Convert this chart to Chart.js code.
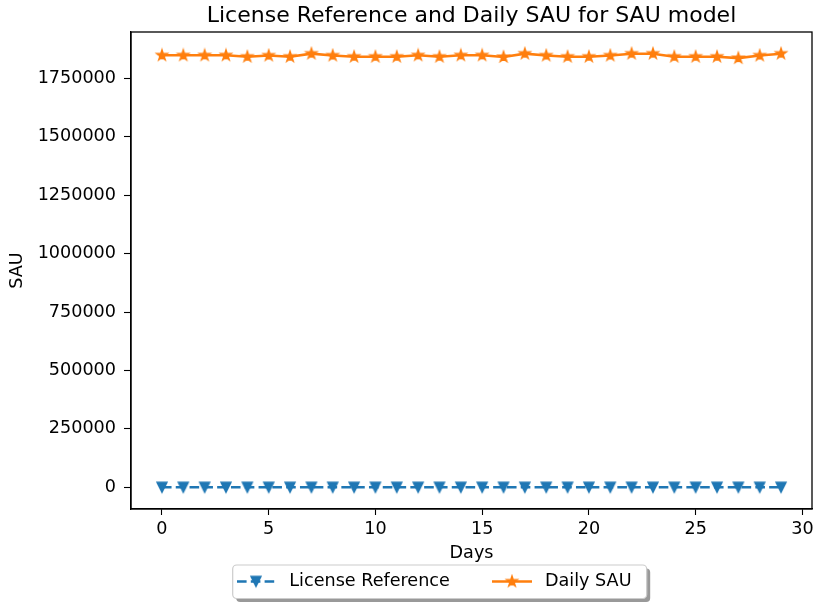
<!DOCTYPE html>
<html><head><meta charset="utf-8">
<script src="https://cdn.jsdelivr.net/npm/chart.js@4"></script>
<style>html,body{margin:0;padding:0;background:#fff;} canvas{display:block}</style>
</head><body>
<canvas id="c" width="813" height="602"></canvas>
<script>
const chartTitle = 'License Reference and Daily SAU for SAU model';
const seriesNames = ['License Reference', 'Daily SAU'];
const days = [0,1,2,3,4,5,6,7,8,9,10,11,12,13,14,15,16,17,18,19,20,21,22,23,24,25,26,27,28,29];
const licenseReference = [0,0,0,0,0,0,0,0,0,0,0,0,0,0,0,0,0,0,0,0,0,0,0,0,0,0,0,0,0,0];
const dailySAU = [1849000,1849000,1849000,1849000,1843000,1848000,1843000,1856000,1848000,1843000,
                  1843000,1843000,1849000,1843000,1849000,1849000,1842000,1856000,1848000,1843000,
                  1843000,1848000,1856000,1856000,1843000,1843000,1843000,1837000,1848000,1856000];
const xTickValues = [0,5,10,15,20,25,30];
const yTickValues = [0,250000,500000,750000,1000000,1250000,1500000,1750000];

const FONT = 'DejaVu Sans';
const BLUE = '#1f77b4', ORANGE = '#ff7f0e';

function makeStar(color){
  const c=document.createElement('canvas'); c.width=c.height=16;
  const g=c.getContext('2d'); const cx=8, cy=8, R=5.6, r=R*0.381966;
  g.beginPath();
  for(let i=0;i<10;i++){const a=-Math.PI/2+i*Math.PI/5;const rr=i%2===0?R:r;g.lineTo(cx+rr*Math.cos(a),cy+rr*Math.sin(a));}
  g.closePath(); g.fillStyle=color; g.fill(); g.lineWidth=1.4; g.strokeStyle=color; g.lineJoin='miter'; g.stroke();
  return c;
}
function makeTriDown(color){
  const c=document.createElement('canvas'); c.width=c.height=16;
  const g=c.getContext('2d'); const cx=8, cy=8, h=5.0;
  g.beginPath(); g.moveTo(cx,cy+h); g.lineTo(cx-h,cy-h); g.lineTo(cx+h,cy-h); g.closePath();
  g.fillStyle=color; g.fill(); g.lineWidth=1.4; g.strokeStyle=color; g.lineJoin='miter'; g.stroke();
  return c;
}
const starImg = makeStar(ORANGE), triImg = makeTriDown(BLUE);
const DASH = [9.6, 4.2];

const deco = {
  id:'deco',
  afterDraw(chart){
    const g=chart.ctx, ca=chart.chartArea;
    g.save();
    g.strokeStyle='#000'; g.lineWidth=1.3;
    g.strokeRect(ca.left, ca.top, ca.right-ca.left, ca.bottom-ca.top);
    g.fillStyle='#000'; g.font='22px "'+FONT+'"'; g.textAlign='center'; g.textBaseline='alphabetic';
    g.fillText(chartTitle, (ca.left+ca.right)/2, 21.5);
    // legend
    const bx=232.7, by=565, bw=414, bh=33.5;
    g.fillStyle='rgba(0,0,0,0.4)';
    g.beginPath(); g.roundRect(bx+3.5, by+3.5, bw, bh, 4); g.fill();
    g.fillStyle='#fff'; g.strokeStyle='#cccccc'; g.lineWidth=1.2;
    g.beginPath(); g.roundRect(bx, by, bw, bh, 4); g.fill(); g.stroke();
    const ly=581.5;
    g.lineWidth=2.6; g.strokeStyle=BLUE; g.setLineDash(DASH);
    g.beginPath(); g.moveTo(237,ly); g.lineTo(275,ly); g.stroke();
    g.setLineDash([]);
    g.drawImage(triImg, 256-8, ly-8);
    g.strokeStyle=ORANGE;
    g.beginPath(); g.moveTo(492,ly); g.lineTo(532,ly); g.stroke();
    g.drawImage(starImg, 512-8, ly-8);
    g.fillStyle='#000'; g.font='17.6px "'+FONT+'"'; g.textAlign='left'; g.textBaseline='middle';
    g.fillText(seriesNames[0], 289.3, ly);
    g.fillText(seriesNames[1], 545, ly);
    g.restore();
  }
};

const tickFont = {family:FONT, size:17.6};
new Chart(document.getElementById('c'), {
  type:'line',
  data:{datasets:[
    {label:seriesNames[0], data:days.map((d,i)=>({x:d,y:licenseReference[i]})),
     borderColor:BLUE, backgroundColor:BLUE, borderWidth:2.6, borderDash:DASH,
     pointStyle:triImg, pointRadius:6, tension:0, fill:false},
    {label:seriesNames[1], data:days.map((d,i)=>({x:d,y:dailySAU[i]})),
     borderColor:ORANGE, backgroundColor:ORANGE, borderWidth:2.6,
     pointStyle:starImg, pointRadius:6, tension:0, fill:false}
  ]},
  options:{
    responsive:false, animation:false, events:[],
    layout:{autoPadding:false, padding:{left:0, top:32, right:1, bottom:0}},
    plugins:{legend:{display:false}, title:{display:false}, tooltip:{enabled:false}},
    scales:{
      x:{type:'linear', min:-1.45, max:30.45,
         afterBuildTicks:s=>{s.ticks=xTickValues.map(v=>({value:v}));},
         afterFit:s=>{s.height=93; s.paddingLeft=0; s.paddingRight=0;},
         grid:{drawOnChartArea:false, drawTicks:true, tickLength:6, color:'#000', tickColor:'#000', tickWidth:1.1},
         border:{display:true, color:'#000', width:1.3},
         ticks:{color:'#000', font:tickFont, padding:4, maxRotation:0, autoSkip:false, callback:v=>String(v)},
         title:{display:true, text:'Days', color:'#000', font:tickFont, padding:{top:0,bottom:38}}},
      y:{type:'linear', min:-92800, max:1948800,
         afterBuildTicks:s=>{s.ticks=yTickValues.map(v=>({value:v}));},
         afterFit:s=>{s.width=131; s.paddingTop=0; s.paddingBottom=0;},
         grid:{drawOnChartArea:false, drawTicks:true, tickLength:7, color:'#000', tickColor:'#000', tickWidth:1.1},
         border:{display:true, color:'#000', width:1.3},
         ticks:{color:'#000', font:tickFont, padding:8, autoSkip:false, callback:v=>String(v)},
         title:{display:true, text:'SAU', color:'#000', font:tickFont, padding:{top:7,bottom:0}}}
    }
  },
  plugins:[deco]
});
</script>
</body></html>
